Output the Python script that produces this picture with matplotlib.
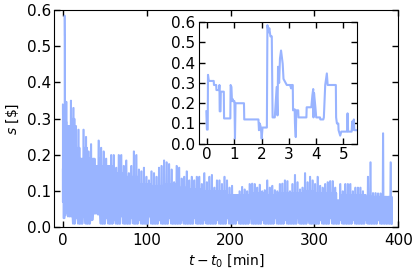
# -*- coding: utf-8 -*-

import numpy as np
import matplotlib
matplotlib.use('Agg')
import matplotlib.pyplot as plt

# inset: first minutes of the spread (min, $)
inset_t = [-0.03, -0.01, 0.02, 0.03, 0.06, 0.24, 0.25, 0.33, 0.34, 0.44, 0.45, 0.46,
           0.49, 0.50, 0.61, 0.62, 0.85, 0.86, 0.89, 0.91, 0.94, 0.96, 1.00, 1.02,
           1.04, 1.35, 1.36, 1.88, 1.90, 1.93, 1.97, 2.00, 2.03, 2.19, 2.21, 2.25,
           2.28, 2.32, 2.37, 2.40, 2.48, 2.55, 2.58, 2.60, 2.64, 2.67, 2.71, 2.77,
           2.80, 2.86, 2.92, 3.04, 3.08, 3.10, 3.14, 3.15, 3.21, 3.22, 3.25, 3.27,
           3.34, 3.35, 3.64, 3.65, 3.82, 3.86, 3.89, 3.90, 3.92, 3.97, 4.00, 4.14,
           4.15, 4.26, 4.28, 4.33, 4.39, 4.42, 4.72, 4.73, 4.76, 4.81, 4.82, 4.88,
           4.92, 5.13, 5.15, 5.17, 5.30, 5.32, 5.35, 5.38, 5.40, 5.50]
inset_v = [0.16, 0.07, 0.07, 0.34, 0.31, 0.31, 0.29, 0.29, 0.265, 0.265, 0.29, 0.16,
           0.16, 0.257, 0.257, 0.125, 0.125, 0.29, 0.28, 0.21, 0.22, 0.21, 0.21, 0.025,
           0.20, 0.20, 0.12, 0.12, 0.067, 0.10, 0.08, 0.025, 0.08, 0.08, 0.585, 0.55,
           0.57, 0.53, 0.53, 0.13, 0.13, 0.28, 0.14, 0.38, 0.30, 0.42, 0.46, 0.395,
           0.32, 0.305, 0.29, 0.29, 0.273, 0.29, 0.29, 0.165, 0.17, 0.10, 0.033, 0.165,
           0.165, 0.13, 0.13, 0.18, 0.18, 0.24, 0.27, 0.13, 0.25, 0.18, 0.13, 0.13,
           0.12, 0.12, 0.13, 0.29, 0.347, 0.29, 0.29, 0.13, 0.10, 0.10, 0.067, 0.04,
           0.06, 0.06, 0.15, 0.06, 0.06, 0.11, 0.07, 0.12, 0.067, 0.067]

# rest of the session, per 3-min bin: highest spike and lowest dip
bin_t = np.arange(6, 391, 3)
bin_hi = [0.28, 0.35, 0.33, 0.28, 0.27, 0.19, 0.27, 0.25, 0.21, 0.23, 0.19, 0.17,
          0.24, 0.22, 0.21, 0.19, 0.17, 0.20, 0.20, 0.165, 0.20, 0.20, 0.17, 0.185,
          0.15, 0.17, 0.21, 0.20, 0.16, 0.155, 0.165, 0.14, 0.13, 0.155, 0.15, 0.14,
          0.165, 0.17, 0.185, 0.18, 0.175, 0.16, 0.125, 0.17, 0.165, 0.135, 0.14, 0.155,
          0.13, 0.14, 0.13, 0.14, 0.14, 0.12, 0.15, 0.125, 0.14, 0.145, 0.11, 0.13,
          0.13, 0.12, 0.14, 0.13, 0.11, 0.115, 0.09, 0.09, 0.10, 0.112, 0.105, 0.10,
          0.12, 0.121, 0.12, 0.11, 0.118, 0.10, 0.103, 0.13, 0.11, 0.115, 0.103, 0.10,
          0.12, 0.121, 0.13, 0.128, 0.10, 0.12, 0.145, 0.125, 0.105, 0.11, 0.15, 0.125,
          0.14, 0.13, 0.12, 0.14, 0.115, 0.11, 0.12, 0.125, 0.128, 0.128, 0.11, 0.075,
          0.12, 0.10, 0.12, 0.12, 0.12, 0.10, 0.11, 0.11, 0.11, 0.10, 0.09, 0.14,
          0.18, 0.095, 0.095, 0.094, 0.094, 0.26, 0.085, 0.085, 0.18]
bin_lo = [0.03, 0.03, 0.01, 0.025, 0.01, 0.01, 0.03, 0.01, 0.01, 0.02, 0.038, 0.038,
          0.035, 0.01, 0.01, 0.025, 0.01, 0.01, 0.02, 0.01, 0.01, 0.03, 0.01, 0.01,
          0.01, 0.025, 0.01, 0.01, 0.02, 0.01, 0.01, 0.01, 0.03, 0.01, 0.01, 0.01,
          0.02, 0.01, 0.01, 0.01, 0.025, 0.01, 0.01, 0.01, 0.01, 0.02, 0.01, 0.01,
          0.01, 0.01, 0.025, 0.01, 0.01, 0.01, 0.02, 0.01, 0.01, 0.01, 0.01, 0.02,
          0.01, 0.01, 0.01, 0.025, 0.01, 0.01, 0.01, 0.02, 0.01, 0.01, 0.01, 0.01,
          0.025, 0.01, 0.01, 0.01, 0.01, 0.02, 0.01, 0.01, 0.01, 0.01, 0.025, 0.01,
          0.01, 0.01, 0.02, 0.01, 0.01, 0.01, 0.01, 0.025, 0.01, 0.01, 0.01, 0.02,
          0.01, 0.01, 0.01, 0.01, 0.02, 0.01, 0.01, 0.01, 0.025, 0.01, 0.01, 0.01,
          0.02, 0.01, 0.01, 0.01, 0.01, 0.02, 0.01, 0.01, 0.01, 0.01, 0.02, 0.01,
          0.01, 0.01, 0.01, 0.02, 0.01, 0.01, 0.01, 0.01, 0.01]
# typical oscillation height, per 15 min (t = 0, 15, ..., 390)
base_15 = [0.30, 0.22, 0.19, 0.17, 0.15, 0.14, 0.12, 0.115, 0.12, 0.11, 0.105, 0.10,
           0.10, 0.09, 0.09, 0.095, 0.09, 0.095, 0.095, 0.10, 0.095, 0.095, 0.09, 0.09,
           0.085, 0.085, 0.085]

colour = '#99b4ff'

hi = np.array(bin_hi)
lo = np.array(bin_lo)
base = np.minimum(np.array(base_15)[bin_t // 15], hi)
# within each bin: one spike to the top, then fast swings at the typical height
zz_t = np.column_stack([bin_t, bin_t + 0.5, bin_t + 1.0, bin_t + 1.5, bin_t + 2.0, bin_t + 2.5]).ravel()
zz_v = np.column_stack([lo, hi, hi, lo, base, lo]).ravel()
main_t = np.concatenate([inset_t, zz_t])
main_v = np.concatenate([inset_v, zz_v])

plt.rcParams['font.size'] = 10
plt.rcParams['mathtext.fontset'] = 'dejavusans'

fig = plt.figure(figsize=(4.15, 2.77), dpi=100)
ax = fig.add_axes([0.131, 0.179, 0.829, 0.785])
ax.plot(main_t, main_v, '-', color=colour, linewidth=1.2)
ax.set_xlim(-10, 400)
ax.set_ylim(0, 0.6)
ax.set_xticks([0, 100, 200, 300, 400])
ax.set_yticks(np.arange(0, 0.61, 0.1))
ax.set_xlabel(r'$t-t_0$ [min]', labelpad=3)
ax.set_ylabel(r'$s$ [\$]')
ax.tick_params(direction='in', top=True, right=True, length=4, width=1, labelsize=11)
ax.tick_params(axis='y', pad=2.5)
ax.tick_params(axis='x', pad=4)

ins = fig.add_axes([0.4795, 0.481, 0.381, 0.439])
ins.plot(inset_t, inset_v, '-', color=colour, linewidth=1.5)
ins.set_xlim(-0.3, 5.5)
ins.set_ylim(0, 0.6)
ins.set_xticks([0, 1, 2, 3, 4, 5])
ins.set_yticks(np.arange(0, 0.61, 0.1))
ins.tick_params(direction='in', top=True, right=True, length=4, width=1, labelsize=11)
ins.tick_params(axis='y', pad=2.5)
ins.tick_params(axis='x', pad=2)

fig.savefig('out.png', dpi=100)
